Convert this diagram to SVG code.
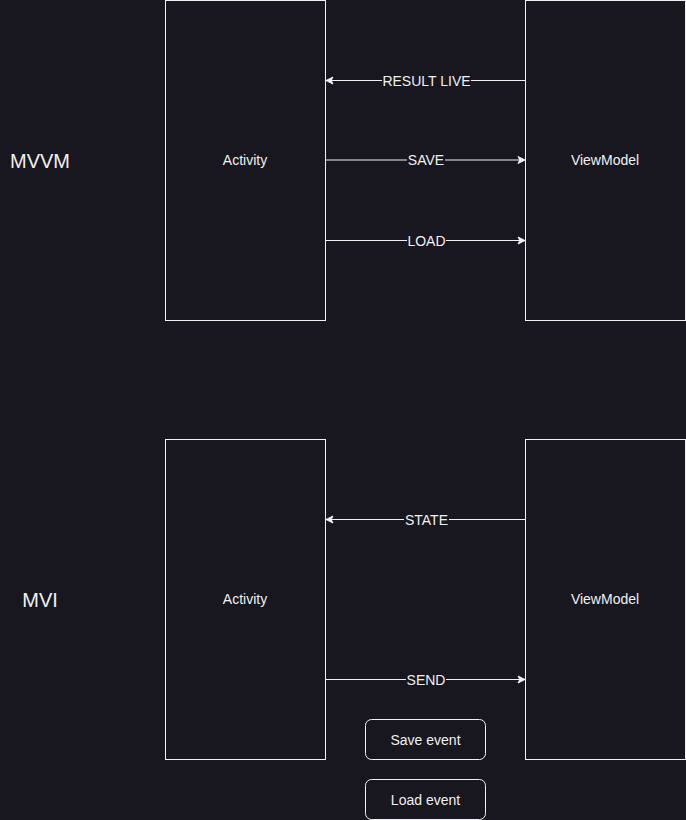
<svg xmlns="http://www.w3.org/2000/svg" width="686" height="820" viewBox="0 0 686 820">
<defs>
<style>
.box{fill:#18161f;stroke:#f0f0f0;stroke-width:1}
.btn{fill:#18161f;stroke:#f0f0f0;stroke-width:1}
.t{font-family:"Liberation Sans",Arial,sans-serif;font-size:14px;fill:#f0f0f0;text-anchor:middle;dominant-baseline:central}
.big{font-family:"Liberation Sans",Arial,sans-serif;font-size:20px;fill:#f0f0f0;text-anchor:middle;dominant-baseline:central}
.e{stroke:#f0f0f0;stroke-width:1;fill:none}
.lbl{font-family:"Liberation Sans",Arial,sans-serif;font-size:14px;fill:#f0f0f0;text-anchor:middle;dominant-baseline:central}
.lb{fill:#18161f}
</style>
<marker id="ah" markerWidth="10" markerHeight="10" refX="8" refY="5" orient="auto" markerUnits="userSpaceOnUse">
<path d="M1,1.5 L8,5 L1,8.5 L2.8,5 Z" fill="#f0f0f0" stroke="#f0f0f0" stroke-width="1"/>
</marker>
</defs>
<rect width="686" height="820" fill="#18161f"/>
<g id="mvvm-label"><text class="big" x="40" y="161">MVVM</text></g>
<g id="mvi-label"><text class="big" x="40" y="600">MVI</text></g>
<g id="activity1"><rect class="box" x="165.5" y="0.5" width="160" height="320"/><text class="t" x="245" y="160">Activity</text></g>
<g id="viewmodel1"><rect class="box" x="525.5" y="0.5" width="160" height="320"/><text class="t" x="605" y="160">ViewModel</text></g>
<g id="activity2"><rect class="box" x="165.5" y="439.5" width="160" height="320"/><text class="t" x="245" y="599">Activity</text></g>
<g id="viewmodel2"><rect class="box" x="525.5" y="439.5" width="160" height="320"/><text class="t" x="605" y="599">ViewModel</text></g>
<g id="save-event"><rect class="btn" x="365.5" y="719.5" width="120" height="40" rx="6"/><text class="t" x="425.5" y="739.5">Save event</text></g>
<g id="load-event"><rect class="btn" x="365.5" y="779.5" width="120" height="40" rx="6"/><text class="t" x="425.5" y="799.5">Load event</text></g>
<g id="connectors">
<line class="e" x1="525" y1="80.5" x2="326" y2="80.5" marker-end="url(#ah)"/>
<rect class="lb" x="382" y="73" width="89" height="16"/><text class="lbl" x="426.5" y="81">RESULT LIVE</text>
<line class="e" x1="326" y1="160" x2="525" y2="160" marker-end="url(#ah)" stroke="#c8c8c8"/>
<rect class="lb" x="407" y="152" width="38" height="16"/><text class="lbl" x="426" y="160">SAVE</text>
<line class="e" x1="326" y1="240.5" x2="525" y2="240.5" marker-end="url(#ah)"/>
<rect class="lb" x="407" y="233" width="39" height="16"/><text class="lbl" x="426.5" y="241">LOAD</text>
<line class="e" x1="525" y1="519.5" x2="326" y2="519.5" marker-end="url(#ah)"/>
<rect class="lb" x="404" y="512" width="45" height="16"/><text class="lbl" x="426.5" y="520">STATE</text>
<line class="e" x1="326" y1="679.5" x2="525" y2="679.5" marker-end="url(#ah)"/>
<rect class="lb" x="406" y="672" width="40" height="16"/><text class="lbl" x="426" y="680">SEND</text>
</g>
</svg>
